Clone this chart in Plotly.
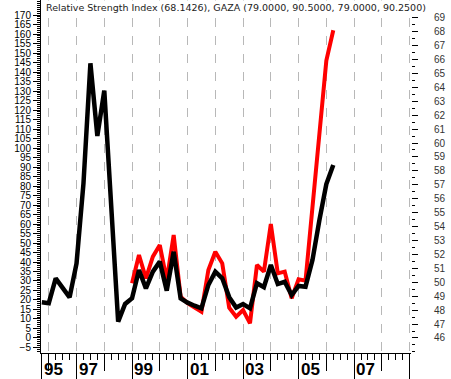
import plotly.graph_objects as go

# quarterly dates
times = [1995.75 + 0.25 * i for i in range(43)]

rsi_black = [18.8, 18.3, 31.4, 26.5, 21.4, 39.3, 81.4, 144.6, 106.3, 130.2,
             72.0, 8.6, 17.9, 20.9, 35.8, 26.1, 34.9, 40.2, 24.9, 45.4,
             20.9, 18.6, 17.0, 15.6, 27.9, 34.9, 31.4, 21.5, 16.0, 17.9,
             15.6, 28.8, 26.7, 38.4, 28.4, 29.6, 22.6, 27.4, 27.0, 41.0,
             62.0, 81.0, 91.0]

red_times = times[13:]
rsi_red = [28.8, 43.7, 31.4, 42.8, 48.9, 30.5, 54.2, 21.7, 18.3, 16.0,
           13.8, 35.8, 45.4, 39.3, 16.0, 11.2, 14.7, 7.7, 38.4, 34.9,
           60.0, 34.0, 34.9, 20.9, 30.9, 30.2, 70.0, 106.0, 146.0, 162.0]

grid_years = [1995.75] + list(range(1996, 2010))
label_years = [1995.75, 1997, 1999, 2001, 2003, 2005, 2007]
label_text = ["95", "97", "99", "01", "03", "05", "07"]
tall_ticks = label_years + [2009]
left_ticks = list(range(-5, 171, 5))
right_ticks = list(range(46, 70))

title_text = "Relative Strength Index (68.1426), GAZA (79.0000, 90.5000, 79.0000, 90.2500)"

fig = go.Figure()
fig.add_trace(go.Scatter(x=red_times, y=rsi_red, mode="lines",
                         line=dict(color="#ff0000", width=4), hoverinfo="skip"))
fig.add_trace(go.Scatter(x=times, y=rsi_black, mode="lines",
                         line=dict(color="#000000", width=4.5), hoverinfo="skip"))
# helper trace for overlay axes
fig.add_trace(go.Scatter(x=tall_ticks, y=[None] * len(tall_ticks), xaxis="x2", yaxis="y2",
                         mode="lines", hoverinfo="skip", showlegend=False))

xr = [1995.72, 2009.05]
fig.update_layout(
    width=451, height=379,
    margin=dict(l=41, r=40, t=0, b=26),
    paper_bgcolor="white", plot_bgcolor="white",
    showlegend=False,
    font=dict(family="Arial, Liberation Sans, sans-serif", size=10, color="black"),
    xaxis=dict(range=xr, tickmode="array", tickvals=grid_years, showticklabels=False,
               ticks="outside", ticklen=17, tickcolor="black", tickwidth=1,
               showgrid=True, griddash="dash", gridcolor="#b8b8b8", gridwidth=1,
               showline=True, linecolor="black", linewidth=1, zeroline=False,
               minor=dict(ticks="outside", ticklen=6, tickcolor="black", tick0=1996,
                          dtick=0.25, showgrid=False)),
    xaxis2=dict(range=xr, overlaying="x", anchor="y", side="bottom", tickmode="array",
                tickvals=tall_ticks, showticklabels=False, ticks="outside", ticklen=26,
                tickcolor="black", showgrid=False, showline=False, zeroline=False),
    yaxis=dict(range=[-7.9, 177.9], tickmode="array", tickvals=left_ticks,
               ticks="outside", ticklen=7, tickcolor="black", showgrid=False,
               showline=True, linecolor="black", linewidth=1, zeroline=False,
               tickfont=dict(size=10, color="black"),
               minor=dict(ticks="outside", ticklen=3, tickcolor="black", dtick=1, tick0=0)),
    yaxis2=dict(range=[44.92, 70.27], overlaying="y", anchor="x", side="right",
                tickmode="array", tickvals=right_ticks, ticks="outside", ticklen=6,
                tickcolor="black", showgrid=False, showline=False, zeroline=False,
                tickfont=dict(size=10, color="#333333"), ticklabelstandoff=14,
                minor=dict(ticks="outside", ticklen=3, tickcolor="black", dtick=0.5, tick0=46)),
)

for xv, txt in zip(label_years, label_text):
    fig.add_annotation(x=xv, y=-0.047, xref="x", yref="paper", text="<b>" + txt + "</b>",
                       showarrow=False, xanchor="left", yanchor="middle", xshift=0,
                       font=dict(size=17, color="black", family="Arial, Liberation Sans, sans-serif"))

fig.add_annotation(x=0.008, y=1.0, xref="paper", yref="paper", text=title_text,
                   showarrow=False, xanchor="left", yanchor="top", bgcolor="white",
                   borderpad=1, font=dict(size=9.5, color="#222222", family="DejaVu Sans"))

fig.write_html("out.html")
